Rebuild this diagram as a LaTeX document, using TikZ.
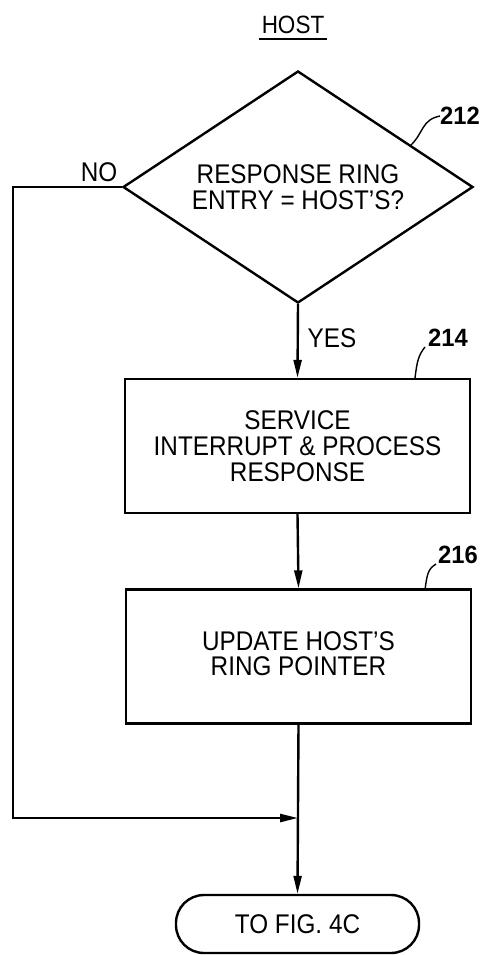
\documentclass[tikz,border=0pt]{standalone}
\usepackage{fontspec}
\setmainfont{Liberation Sans}[FakeStretch=0.9]
\newfontfamily\numfont{Liberation Sans}[FakeStretch=0.95]
\usetikzlibrary{shapes.geometric,arrows.meta}
\begin{document}
\begin{tikzpicture}[x=1pt,y=-1pt,
  flow/.style={line width=2.4pt},
  tip/.style={-{Triangle[length=18pt,width=8pt]}},
  leader/.style={line width=1.4pt},
  stepbox/.style={draw,line width=2.4pt,minimum width=345pt,minimum height=134pt,
    inner sep=0pt,align=center},
  decision/.style={draw,line width=2.4pt,diamond,aspect=1.5,minimum width=350pt,
    minimum height=232pt,inner sep=0pt,align=center},
  terminal/.style={draw,line width=2.4pt,rounded corners=28pt,minimum width=243pt,
    minimum height=58pt,inner sep=0pt},
  refnum/.style={font=\numfont\bfseries\fontsize{25}{25}\selectfont,inner sep=0pt},
  lbl/.style={font=\fontsize{27}{27}\selectfont,inner sep=0pt}]
\useasboundingbox (0,0) rectangle (483,955);

% title
\node[lbl,font=\fontsize{25}{25}\selectfont] (host) at (293,25) {HOST};
\draw[line width=1.5pt] (259,39) -- (327,39);

% flow chart nodes
\node[decision,font=\fontsize{27}{26}\selectfont] (dec) at (298,187)
  {RESPONSE RING\\ENTRY = HOST'S?};
\node[stepbox,font=\fontsize{27}{26}\selectfont] (b214) at (297.5,446)
  {SERVICE\\INTERRUPT \& PROCESS\\RESPONSE};
\node[stepbox,font=\fontsize{27}{28}\selectfont,text depth=0pt] (b216) at (298.5,656.5)
  {\raisebox{5pt}{\shortstack{UPDATE HOST'S\\[3pt]RING POINTER}}};
\node[terminal,font=\fontsize{27}{27}\selectfont] (term) at (297.5,924) {TO FIG. 4C};

% branch labels
\node[lbl] (no) at (99,172) {NO};
\node[lbl] (yes) at (332,338) {YES};

% reference numerals with leaders
\node[refnum] (n212) at (460,116) {212};
\node[refnum] (n214) at (448,338) {214};
\node[refnum] (n216) at (458,555) {216};
\coordinate (l212) at (410,146);
\coordinate (l214) at (415,378);
\coordinate (l216) at (425,590);
\draw[leader] (l212) .. controls (424,133) and (421,120) .. (n212.west);
\draw[leader] (l214) .. controls (417,362) and (418,356) .. ([xshift=-3pt]n214.south west);
\draw[leader] (l216) .. controls (427,574) and (428,569) .. ([xshift=-2pt]n216.south west);

% connectors
\coordinate (merge) at (298,818);
\coordinate (corner) at (13,187);
\draw[flow,tip] (dec.south) -- (b214.north);
\draw[flow,tip] (b214.south) -- (b216.north);
\draw[flow,tip] (b216.south) -- (term.north);
\draw[flow,tip] (dec.west) -- (corner) |- (merge);
\end{tikzpicture}
\end{document}
